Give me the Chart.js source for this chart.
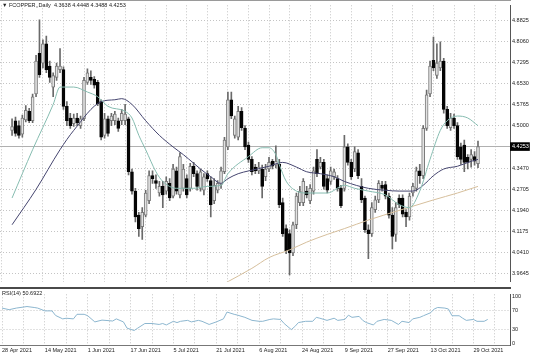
<!DOCTYPE html>
<html><head><meta charset="utf-8">
<script src="https://cdn.jsdelivr.net/npm/chart.js@4.4.0/dist/chart.umd.min.js"></script>
<style>
html,body{margin:0;padding:0;background:#fff;}
#wrap{position:relative;width:536px;height:357px;overflow:hidden;font-family:"Liberation Sans",Arial,sans-serif;background:#fff;}
canvas{position:absolute;left:0;}
#c1{top:0;}
#c2{top:289px;}
#sep{position:absolute;left:0;top:287px;width:511px;height:2px;background:#4a4a4a;}
#topb{position:absolute;left:0;top:0;width:511px;height:1px;background:#9a9a9a;}
.lbl{position:absolute;font-size:11px;line-height:1;color:#222;white-space:pre;transform:scale(0.5);transform-origin:0 0;}
</style></head><body>
<div id="wrap">
<canvas id="c1" width="536" height="287"></canvas>
<canvas id="c2" width="536" height="68"></canvas>
<div id="sep"></div>
<div id="topb"></div>
<div class="lbl" style="left:2px;top:2px">▼ FCOPPER,,Daily  4.3638 4.4448 4.3488 4.4253</div>
<div class="lbl" style="left:2px;top:290px">RSI(14) 50.6922</div>
</div>
<script>
// ---------- data ----------
const opens = [4.484,4.519,4.501,4.470,4.522,4.553,4.519,4.616,4.763,4.728,
4.798,4.717,4.641,4.676,4.704,4.704,4.571,4.529,4.508,4.529,
4.501,4.526,4.658,4.676,4.669,4.658,4.588,4.466,4.526,4.519,
4.519,4.519,4.519,4.519,4.526,4.334,4.264,4.177,4.135,4.177,
4.229,4.320,4.302,4.257,4.281,4.264,4.292,4.246,4.337,4.250,
4.274,4.309,4.274,4.354,4.327,4.274,4.267,4.327,4.302,4.229,
4.267,4.288,4.334,4.424,4.595,4.466,4.459,4.553,4.491,4.431,
4.379,4.351,4.337,4.344,4.316,4.344,4.372,4.358,4.361,4.222,
4.128,4.110,4.040,4.142,4.222,4.222,4.264,4.229,4.264,4.379,
4.351,4.368,4.309,4.299,4.316,4.309,4.274,4.274,4.424,4.368,
4.344,4.403,4.281,4.239,4.124,4.110,4.197,4.232,4.285,4.288,
4.246,4.177,4.107,4.239,4.239,4.187,4.170,4.257,4.274,4.337,
4.320,4.491,4.616,4.738,4.683,4.710,4.735,4.560,4.494,4.529,
4.501,4.424,4.431,4.386,4.379,4.389,4.3638];
const highs = [4.526,4.532,4.519,4.539,4.574,4.564,4.616,4.756,4.885,4.812,
4.826,4.735,4.693,4.728,4.780,4.714,4.588,4.546,4.543,4.546,
4.536,4.676,4.707,4.700,4.679,4.665,4.595,4.546,4.536,4.546,
4.553,4.529,4.560,4.578,4.532,4.344,4.274,4.187,4.204,4.267,
4.337,4.337,4.323,4.299,4.299,4.316,4.309,4.361,4.351,4.403,
4.361,4.323,4.365,4.368,4.337,4.344,4.327,4.337,4.316,4.309,
4.302,4.351,4.459,4.623,4.623,4.536,4.571,4.567,4.501,4.442,
4.389,4.361,4.368,4.358,4.361,4.386,4.379,4.428,4.379,4.239,
4.142,4.124,4.152,4.257,4.281,4.309,4.281,4.288,4.351,4.414,
4.386,4.379,4.323,4.351,4.344,4.320,4.285,4.466,4.435,4.379,
4.424,4.414,4.309,4.246,4.142,4.222,4.246,4.302,4.299,4.299,
4.257,4.204,4.222,4.250,4.250,4.197,4.257,4.292,4.351,4.361,
4.501,4.630,4.735,4.822,4.798,4.805,4.745,4.571,4.546,4.543,
4.512,4.438,4.449,4.396,4.414,4.407,4.4448];
const lows = [4.466,4.463,4.456,4.459,4.515,4.512,4.512,4.606,4.676,4.710,
4.693,4.658,4.606,4.665,4.693,4.560,4.501,4.491,4.498,4.501,
4.491,4.519,4.651,4.651,4.637,4.574,4.449,4.456,4.463,4.501,
4.505,4.480,4.505,4.505,4.323,4.253,4.152,4.100,4.089,4.170,
4.218,4.292,4.274,4.246,4.204,4.253,4.229,4.239,4.253,4.239,
4.264,4.239,4.264,4.316,4.267,4.264,4.250,4.299,4.170,4.218,
4.257,4.274,4.327,4.414,4.526,4.456,4.449,4.484,4.414,4.368,
4.323,4.327,4.327,4.239,4.302,4.334,4.344,4.348,4.204,4.100,
4.037,3.960,4.030,4.128,4.211,4.211,4.239,4.218,4.253,4.316,
4.344,4.271,4.257,4.288,4.306,4.264,4.204,4.264,4.358,4.306,
4.334,4.309,4.222,4.114,4.019,4.100,4.187,4.222,4.264,4.236,
4.166,4.054,4.082,4.204,4.170,4.135,4.159,4.246,4.264,4.292,
4.309,4.484,4.606,4.700,4.672,4.700,4.546,4.491,4.484,4.491,
4.379,4.361,4.334,4.344,4.351,4.358,4.3488];
const closes = [4.498,4.473,4.466,4.529,4.557,4.519,4.606,4.735,4.686,4.798,
4.704,4.676,4.683,4.717,4.717,4.571,4.519,4.501,4.529,4.512,
4.526,4.665,4.693,4.665,4.648,4.581,4.459,4.526,4.473,4.536,
4.543,4.491,4.546,4.543,4.334,4.264,4.170,4.128,4.187,4.257,
4.320,4.309,4.292,4.281,4.250,4.299,4.239,4.344,4.264,4.389,
4.344,4.250,4.354,4.327,4.281,4.334,4.316,4.309,4.215,4.285,
4.292,4.337,4.449,4.595,4.536,4.526,4.553,4.494,4.424,4.379,
4.334,4.337,4.351,4.281,4.344,4.368,4.354,4.372,4.215,4.110,
4.047,4.040,4.142,4.246,4.264,4.299,4.250,4.274,4.337,4.327,
4.368,4.281,4.267,4.337,4.334,4.274,4.211,4.424,4.368,4.316,
4.407,4.320,4.232,4.124,4.110,4.204,4.232,4.292,4.274,4.246,
4.177,4.100,4.204,4.215,4.180,4.170,4.246,4.281,4.337,4.320,
4.491,4.613,4.717,4.710,4.728,4.735,4.560,4.501,4.529,4.501,
4.389,4.379,4.368,4.368,4.396,4.372,4.4253];

// moving averages (bar index, value)
const maFastBars = [0,6,12,14,18,22,25,28,33,35,37,39,42,44,48,53,57,61,63,69,73,75,77,78,80,83,86,92,97,100,104,109,113,116,119,122,125,127,130,133,136];
const maFastVals = [4.239,4.414,4.578,4.641,4.641,4.623,4.606,4.571,4.553,4.529,4.466,4.414,4.334,4.299,4.274,4.274,4.281,4.285,4.327,4.389,4.421,4.421,4.396,4.360,4.300,4.264,4.257,4.257,4.285,4.274,4.264,4.250,4.215,4.204,4.264,4.379,4.484,4.519,4.536,4.529,4.501];
const maSlowBars = [0,7,14,18,26,30,32,35,39,43,47,50,53,55,58,61,63,66,69,75,79,83,86,90,94,97,104,109,113,117,120,123,126,130,134,136];
const maSlowVals = [4.142,4.270,4.414,4.484,4.588,4.595,4.599,4.578,4.519,4.466,4.424,4.396,4.365,4.344,4.316,4.292,4.309,4.327,4.337,4.354,4.368,4.351,4.334,4.327,4.316,4.299,4.274,4.267,4.264,4.264,4.285,4.320,4.344,4.354,4.372,4.379];
const maLongBars = [62,70,75,81,86,92,97,104,113,123,130,136];
const maLongVals = [3.929,3.984,4.023,4.051,4.079,4.107,4.128,4.159,4.194,4.232,4.257,4.281];

const rsiBars = [0,2,4,7,9,10,12,14,15,17,18,20,21,23,24,26,28,30,31,32,34,35,37,38,40,42,44,45,46,48,49,50,52,53,55,56,58,60,62,63,65,66,68,70,72,73,75,76,78,79,81,82,83,85,87,88,89,91,93,94,96,97,98,100,101,102,104,105,107,109,111,112,114,115,117,118,120,121,122,124,125,126,128,129,130,132,133,135,136];
const rsiVals = [75,71.6,75,78.3,76.3,75,69,69,59.2,51.9,53.3,51.9,61.7,61.7,58.6,45.4,49.3,48,47.3,51.9,45.4,32.1,27,32.1,42,42,40,42,38.9,46.7,44,46.7,48.7,45.4,48.7,46.7,40,45.4,51.9,66.5,61.7,59.8,55.2,48.7,46.7,46.7,50.7,51.9,50.7,42,29,35.5,44,46.7,46.7,55.2,53.3,48.7,53.3,48.7,50.7,59.8,55.2,57.2,48.7,44,38.9,46.7,50.7,48.7,40,46.7,44,51.9,55.2,58.6,65,73,76.3,75,73,58.6,58.6,53.3,48.7,50.7,46.7,46.7,50.69];

const priceTicks = [4.8825,4.8060,4.7295,4.6530,4.5765,4.5000,4.3470,4.2705,4.1940,4.1175,4.0410,3.9645];
const lastPrice = 4.4253;
const rsiTicks = [0,30,70,100];
const rsiLevels = [30,70];
const dateTickBars = [0,12,24,36,48,60,72,84,96,108,120,132];
const dateTickLabels = ['28 Apr 2021','14 May 2021','1 Jun 2021','17 Jun 2021','5 Jul 2021','21 Jul 2021','6 Aug 2021','24 Aug 2021','9 Sep 2021','27 Sep 2021','13 Oct 2021','29 Oct 2021'];

// ---------- layout / style ----------
const FONT = '"Liberation Sans", Arial, sans-serif';
const X_MIN = -0.42, X_MAX = 142.24;
const Y_MIN = 3.9356, Y_MAX = 4.9373;
const AXIS_W = 26;
const GRID = '#c4c4c4';
const gridBars = [];
dateTickBars.forEach(b => { gridBars.push(b); gridBars.push(b + 6); });

const idx = opens.map((_, i) => i);
const isBull = i => closes[i] >= opens[i];
const pts = (xs, ys) => xs.map((x, i) => ({x: x, y: ys[i]}));

Chart.defaults.font.family = FONT;

new Chart(document.getElementById('c1'), {
  type: 'bar',
  data: { datasets: [
    { type:'line', data: pts(maFastBars, maFastVals), borderColor:'#86bcb0', borderWidth:1, pointRadius:0, cubicInterpolationMode:'monotone', order:0 },
    { type:'line', data: pts(maSlowBars, maSlowVals), borderColor:'#45456f', borderWidth:1, pointRadius:0, cubicInterpolationMode:'monotone', order:0 },
    { type:'line', data: pts(maLongBars, maLongVals), borderColor:'#d6bf9c', borderWidth:1, pointRadius:0, cubicInterpolationMode:'monotone', order:0 },
    { type:'bar', data: idx.map(i => ({x:i, y:[opens[i], closes[i]]})),
      backgroundColor: c => isBull(c.dataIndex) ? '#e2e2e2' : '#050505',
      borderColor: c => isBull(c.dataIndex) ? '#7a7a7a' : '#050505',
      borderWidth: 1, borderSkipped: false, barThickness: 3, grouped: false, minBarLength: 1, order: 1 },
    { type:'bar', data: idx.map(i => ({x:i, y:[lows[i], highs[i]]})),
      backgroundColor: '#6a6a6a', barThickness: 1, grouped: false, order: 2 }
  ]},
  options: {
    responsive:false, animation:false, events:[],
    layout:{ padding:0 },
    plugins:{ legend:{display:false}, tooltip:{enabled:false}, title:{display:false} },
    scales:{
      x:{ type:'linear', min:X_MIN, max:X_MAX,
          afterBuildTicks: s => { s.ticks = gridBars.map(v => ({value:v})); },
          ticks:{ display:false }, grid:{ color:GRID, drawTicks:false },
          border:{ display:false, dash:[1,2] },
          afterFit: s => { s.height = 0; } },
      y:{ position:'right', min:Y_MIN, max:Y_MAX,
          afterBuildTicks: s => { s.ticks = priceTicks.concat([lastPrice]).map(v => ({value:v})); },
          ticks:{ padding:2, font:{size:5.5, family:FONT},
                  color: c => (c.tick && c.tick.value === lastPrice) ? '#ffffff' : '#222',
                  showLabelBackdrop: c => !!(c.tick && c.tick.value === lastPrice),
                  backdropColor:'#000', backdropPadding:{left:3, right:1, top:1, bottom:1},
                  callback: v => Number(v).toFixed(4) },
          grid:{ color: c => (c.tick && c.tick.value === lastPrice) ? '#b0b0b0' : GRID, drawTicks:false },
          border:{ display:true, color:'#555', width:1, dash: c => (c.tick && c.tick.value === lastPrice) ? [] : [1,2] },
          afterFit: s => { s.width = AXIS_W; } }
    }
  }
});

new Chart(document.getElementById('c2'), {
  type: 'line',
  data: { datasets: [
    { data: pts(rsiBars, rsiVals), borderColor:'#8cb6cf', borderWidth:1, pointRadius:0, tension:0 }
  ]},
  options: {
    responsive:false, animation:false, events:[],
    layout:{ padding:0 },
    plugins:{ legend:{display:false}, tooltip:{enabled:false} },
    scales:{
      x:{ type:'linear', min:X_MIN, max:X_MAX,
          afterBuildTicks: s => { s.ticks = gridBars.map(v => ({value:v})); },
          ticks:{ autoSkip:false, maxRotation:0, align:'start', padding:2, font:{size:5.5, family:FONT}, color:'#222',
                  callback: v => { const k = dateTickBars.indexOf(v); return k >= 0 ? dateTickLabels[k] : ''; } },
          grid:{ color:GRID, drawTicks:false },
          border:{ display:true, color:'#777', dash:[1,2] },
          afterFit: s => { s.height = 12; } },
      y:{ position:'right', min:-4, max:104.5,
          afterBuildTicks: s => { s.ticks = rsiTicks.map(v => ({value:v})); },
          ticks:{ padding:2, font:{size:5.5, family:FONT}, color:'#222' },
          grid:{ color: c => (c.tick && rsiLevels.indexOf(c.tick.value) >= 0) ? GRID : 'rgba(0,0,0,0)', drawTicks:false },
          border:{ display:true, color:'#555', dash:[1,2] },
          afterFit: s => { s.width = AXIS_W; } }
    }
  }
});
</script>
</body></html>
